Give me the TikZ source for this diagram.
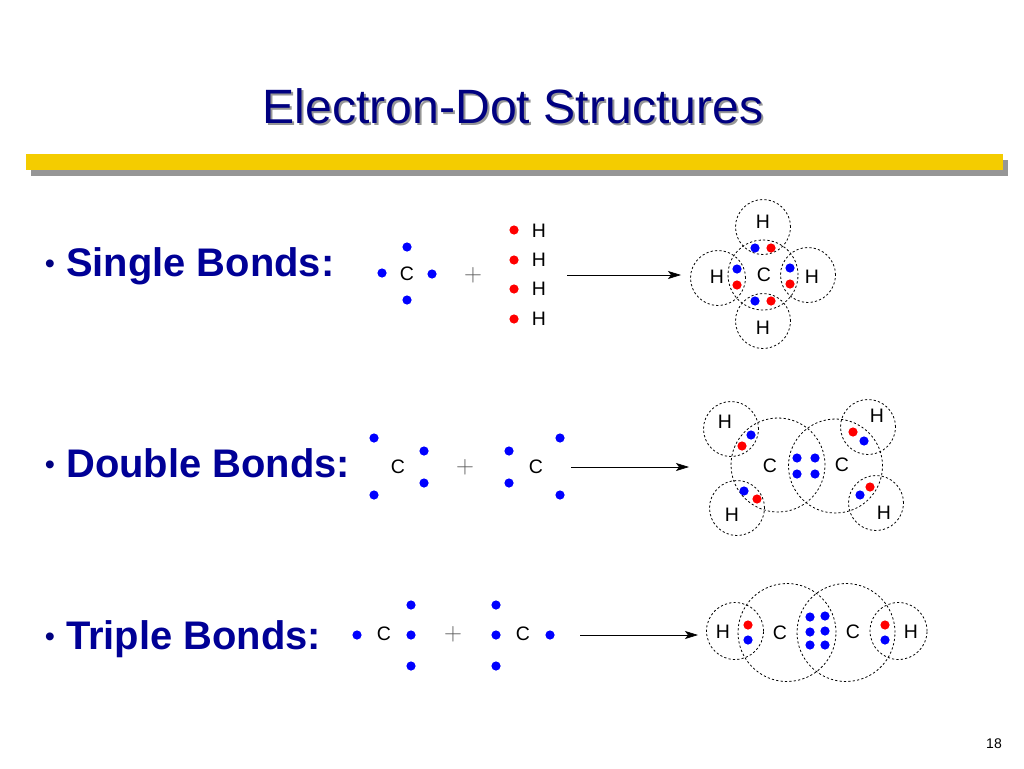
\documentclass[tikz,border=0pt]{standalone}
\usepackage{fontspec}
\setmainfont{Liberation Sans}
\usepackage{xcolor}
\usepackage{tikz}
\usetikzlibrary{arrows.meta}
\definecolor{titleblue}{RGB}{0,0,128}
\definecolor{bondblue}{RGB}{0,0,150}
\definecolor{bargold}{RGB}{244,204,0}
\definecolor{barshade}{RGB}{150,150,150}
\definecolor{plusgrey}{RGB}{90,90,90}

\begin{document}
\begin{tikzpicture}[%
  x=1pt,y=-1pt,
  atom/.style={font=\fontsize{19.5}{20}\selectfont,inner sep=0pt},
  shell/.style={draw,circle,dash pattern=on 2.2pt off 2.2pt,line width=0.8pt,inner sep=0pt},
  hshell/.style={shell,minimum size=55pt},
  cshell/.style={shell,minimum size=70pt},
  blue dot/.style={circle,fill=blue,inner sep=0pt,minimum size=9.2pt},
  red dot/.style={circle,fill=red,inner sep=0pt,minimum size=9.2pt},
  plus/.style={font=\fontsize{24}{25}\selectfont,text=plusgrey,inner sep=0pt},
  bondname/.style={font=\fontsize{39.9}{42}\selectfont\bfseries,text=bondblue,inner sep=0pt,anchor=base west},
  bullet/.style={font=\fontsize{29}{30}\selectfont,text=titleblue,inner sep=0pt},
  react/.style={draw,line width=0.7pt,-{Stealth[length=13pt,width=8pt,inset=3pt]}}
  ]
  \useasboundingbox (0,0) rectangle (1024,768);

  \fill[barshade] (31,160) rectangle (1008,176);
  \fill[bargold] (26,154) rectangle (1003,170);
  \node[font=\fontsize{48.2}{50}\selectfont,text=barshade,inner sep=0pt] (titleshadow) at (515,108.5) {Electron-Dot Structures};
  \node[font=\fontsize{48.2}{50}\selectfont,text=titleblue,inner sep=0pt] (title) at (513,106.5) {Electron-Dot Structures};
  \node[font=\fontsize{14}{16}\selectfont,inner sep=0pt] (pagenum) at (994,744) {18};

  % single bonds
  \node[bullet] (bulleta) at (50,267) {•};
  \node[bondname] (singlename) at (66,276) {Single Bonds:};
  \node[atom] (ca) at (407,274) {C};
  \node[blue dot] (caa) at (407,247) {};
  \node[blue dot] (cab) at (382,273) {};
  \node[blue dot] (cac) at (432,274) {};
  \node[blue dot] (cad) at (407,300) {};
  \node[plus] (plusa) at (473,275) {$+$};
  \node[red dot] (raa) at (514,230) {};
  \node[red dot] (rab) at (514,260) {};
  \node[red dot] (rac) at (514,289) {};
  \node[red dot] (rad) at (514,319) {};
  \node[atom] (haa) at (539,231) {H};
  \node[atom] (hab) at (539,260) {H};
  \node[atom] (hac) at (539,289) {H};
  \node[atom] (had) at (539,319) {H};
  \coordinate (arrowa) at (567,275);
  \coordinate (arrowb) at (681,275);
  \draw[react] (arrowa) -- (arrowb);
  \node[cshell] (sc) at (763,275) {};
  \node[hshell] (st) at (763,227) {};
  \node[hshell] (sl) at (718,278) {};
  \node[hshell] (sr) at (808,275) {};
  \node[hshell] (sb) at (763,321) {};
  \node[atom] at (763,222) (stl) {H};
  \node[atom] at (717,277) (sll) {H};
  \node[atom] at (812,277) (srl) {H};
  \node[atom] at (763,328) (sbl) {H};
  \node[atom] at (764,275) (scl) {C};
  \node[blue dot] (da) at (755,248) {};
  \node[red dot] (db) at (771,248) {};
  \node[blue dot] (dc) at (737,269) {};
  \node[red dot] (dd) at (737,285) {};
  \node[blue dot] (de) at (790,268) {};
  \node[red dot] (df) at (790,284) {};
  \node[blue dot] (dg) at (755,301) {};
  \node[red dot] (dh) at (771,301) {};

  % double bonds
  \node[bullet] (bulletb) at (50,468) {•};
  \node[bondname] (doublename) at (66,477) {Double Bonds:};
  \node[atom] (cb) at (398,467) {C};
  \node[blue dot] (cba) at (374,438) {};
  \node[blue dot] (cbb) at (424,451) {};
  \node[blue dot] (cbc) at (424,483) {};
  \node[blue dot] (cbd) at (374,495) {};
  \node[plus] (plusb) at (465,467) {$+$};
  \node[atom] (cc) at (536,467) {C};
  \node[blue dot] (cca) at (509,451) {};
  \node[blue dot] (ccb) at (509,483) {};
  \node[blue dot] (ccc) at (560,438) {};
  \node[blue dot] (ccd) at (560,495) {};
  \coordinate (arrowc) at (571,467);
  \coordinate (arrowd) at (689,467);
  \draw[react] (arrowc) -- (arrowd);
  \node[shell,minimum size=94pt] (dcl) at (778,465) {};
  \node[shell,minimum size=94pt] (dcr) at (835.5,466) {};
  \node[hshell] (dtl) at (731,429) {};
  \node[hshell] (dtr) at (868,427) {};
  \node[hshell] (dbl) at (737,508) {};
  \node[hshell] (dbr) at (876,503) {};
  \node[atom] at (725,422) (dtll) {H};
  \node[atom] at (877,416) (dtrl) {H};
  \node[atom] at (732,515) (dbll) {H};
  \node[atom] at (884,513) (dbrl) {H};
  \node[atom] at (770,466) (dcll) {C};
  \node[atom] at (842,465) (dcrl) {C};
  \node[blue dot] (ea) at (751,435) {};
  \node[red dot] (eb) at (742,446) {};
  \node[red dot] (ec) at (853,432) {};
  \node[blue dot] (ed) at (864,441) {};
  \node[blue dot] (ee) at (744,491) {};
  \node[red dot] (ef) at (757,499) {};
  \node[red dot] (eg) at (870,487) {};
  \node[blue dot] (eh) at (860,495) {};
  \node[blue dot] (ei) at (797,458) {};
  \node[blue dot] (ej) at (815,458) {};
  \node[blue dot] (ek) at (797,474) {};
  \node[blue dot] (el) at (815,474) {};

  % triple bonds
  \node[bullet] (bulletc) at (50,640) {•};
  \node[bondname] (triplename) at (66,649) {Triple Bonds:};
  \node[atom] (cd) at (384,634) {C};
  \node[blue dot] (cda) at (357,635) {};
  \node[blue dot] (cdb) at (411,605) {};
  \node[blue dot] (cdc) at (411,635) {};
  \node[blue dot] (cdd) at (411,666) {};
  \node[plus] (plusc) at (453,634) {$+$};
  \node[atom] (ce) at (523,634) {C};
  \node[blue dot] (cea) at (496,605) {};
  \node[blue dot] (ceb) at (496,635) {};
  \node[blue dot] (cec) at (496,666) {};
  \node[blue dot] (ced) at (550,635) {};
  \coordinate (arrowe) at (580,635);
  \coordinate (arrowf) at (698,635);
  \draw[react] (arrowe) -- (arrowf);
  \node[shell,minimum size=98pt] (tcl) at (787,632.5) {};
  \node[shell,minimum size=98pt] (tcr) at (846,632.5) {};
  \node[shell,minimum size=57pt] (thl) at (735,631) {};
  \node[shell,minimum size=57pt] (thr) at (898.5,631) {};
  \node[atom] at (723,632) (thll) {H};
  \node[atom] at (780,633) (tcll) {C};
  \node[atom] at (853,632) (tcrl) {C};
  \node[atom] at (911,632) (thrl) {H};
  \node[red dot] (fa) at (748,625) {};
  \node[blue dot] (fb) at (748,640) {};
  \node[red dot] (fc) at (885,625) {};
  \node[blue dot] (fd) at (885,640) {};
  \node[blue dot] (fe) at (810,617) {};
  \node[blue dot] (ff) at (825,616) {};
  \node[blue dot] (fg) at (810,632) {};
  \node[blue dot] (fh) at (825,631) {};
  \node[blue dot] (fi) at (810,645) {};
  \node[blue dot] (fj) at (825,645) {};
\end{tikzpicture}
\end{document}
